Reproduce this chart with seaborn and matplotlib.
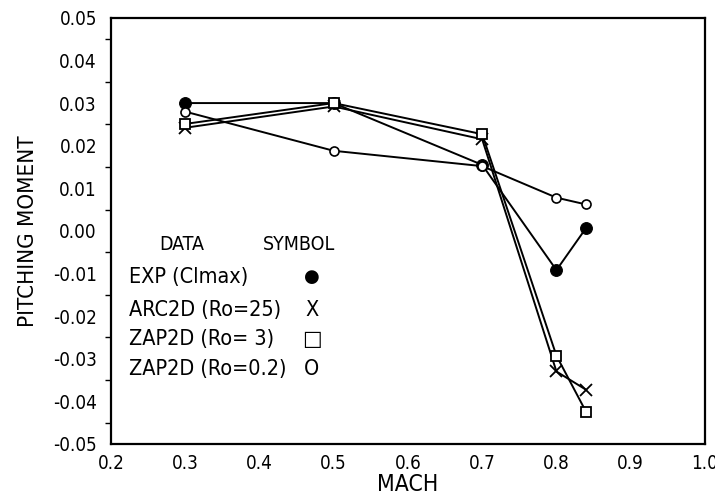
import matplotlib
matplotlib.use("Agg")
import matplotlib.pyplot as plt
import seaborn as sns
from matplotlib.ticker import MultipleLocator, FuncFormatter
from matplotlib import font_manager
from matplotlib.font_manager import FontProperties

sns.set_style("white")

# find a condensed / narrow font if one is installed
cond_file = None
for f in font_manager.fontManager.ttflist:
    nm = (f.name + " " + f.fname).lower()
    if ("narrow" in nm or "condensed" in nm or str(f.stretch) in ("condensed", "semi-condensed", "extra-condensed")) \
            and f.style == "normal" and f.weight in (400, "normal", "regular"):
        cond_file = f.fname
        break

plt.rcParams['font.family'] = ['DejaVu Sans']
plt.rcParams['text.color'] = 'black'
plt.rcParams['axes.labelcolor'] = 'black'
plt.rcParams['xtick.color'] = 'black'
plt.rcParams['ytick.color'] = 'black'


def fp(size):
    if cond_file:
        return FontProperties(fname=cond_file, size=size)
    return FontProperties(family="DejaVu Sans", size=size * 0.8, stretch="condensed")


mach = [0.3, 0.5, 0.7, 0.8, 0.84]
exp_clmax = [0.0300, 0.0300, 0.0155, -0.0092, 0.0007]
arc2d_ro25 = [0.0242, 0.0292, 0.0215, -0.0330, -0.0373]
zap2d_ro3 = [0.0251, 0.0300, 0.0227, -0.0293, -0.0425]
zap2d_ro02 = [0.0280, 0.0188, 0.0152, 0.0078, 0.0062]

legend_names = ["EXP (Clmax)", "ARC2D (Ro=25)", "ZAP2D (Ro= 3)", "ZAP2D (Ro=0.2)"]
legend_symbols = ["●", "X", "□", "O"]

fig = plt.figure(figsize=(7.15, 4.96), dpi=100)
ax = fig.add_axes([0.155, 0.105, 0.831, 0.859])

styles = [
    (exp_clmax, dict(marker="o", markersize=8.5, markerfacecolor="black", markeredgecolor="black")),
    (arc2d_ro25, dict(marker="x", markersize=8, markeredgewidth=1.3, markeredgecolor="black")),
    (zap2d_ro3, dict(marker="s", markersize=7, markerfacecolor="white", markeredgecolor="black", markeredgewidth=1.3)),
    (zap2d_ro02, dict(marker="o", markersize=6.5, markerfacecolor="white", markeredgecolor="black", markeredgewidth=1.2)),
]
for vals, kw in styles:
    sns.lineplot(x=mach, y=vals, ax=ax, color="black", linewidth=1.4, sort=False, **kw)

ax.set_xlim(0.2, 1.0)
ax.set_ylim(-0.05, 0.05)
ax.xaxis.set_major_locator(MultipleLocator(0.1))
ax.yaxis.set_major_locator(MultipleLocator(0.01))
ax.yaxis.set_minor_locator(MultipleLocator(0.005))
ax.xaxis.set_major_formatter(FuncFormatter(lambda v, p: f"{v:.1f}"))
ax.yaxis.set_major_formatter(FuncFormatter(lambda v, p: "0.00" if abs(v) < 1e-9 else f"{v:.2f}"))
ax.tick_params(axis="x", direction="inout", length=8, width=1.2, pad=3)
ax.tick_params(axis="y", which="major", direction="out", length=6, width=1.2, pad=4)
ax.tick_params(axis="y", which="minor", direction="out", length=4, width=1.0, left=True)
for lab in ax.get_xticklabels() + ax.get_yticklabels():
    lab.set_fontproperties(fp(13.5))
for s in ax.spines.values():
    s.set_color("black")
    s.set_linewidth(1.6)

ax.set_xlabel("MACH", fontproperties=fp(16.5), labelpad=0)
ax.set_ylabel("PITCHING MOMENT", fontproperties=fp(16), labelpad=11)

# legend table drawn as text
ax.text(0.082, 0.469, "DATA", transform=ax.transAxes, fontproperties=fp(14), ha="left", va="center")
ax.text(0.256, 0.469, "SYMBOL", transform=ax.transAxes, fontproperties=fp(14), ha="left", va="center")
rows_y = [0.392, 0.315, 0.246, 0.176]
for name, sym, yy in zip(legend_names, legend_symbols, rows_y):
    ax.text(0.030, yy, name, transform=ax.transAxes, fontproperties=fp(15.5), ha="left", va="center")
    if sym in ("●", "□"):
        ax.text(0.338, yy, sym, transform=ax.transAxes, fontsize=13 if sym == "●" else 15,
                family="DejaVu Sans", ha="center", va="center")
    else:
        ax.text(0.338, yy, sym, transform=ax.transAxes, fontproperties=fp(15.5), ha="center", va="center")

fig.savefig("out.png", dpi=100, facecolor="white")
